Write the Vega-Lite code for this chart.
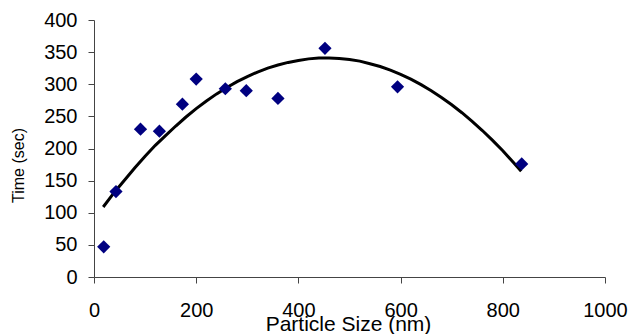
{
  "$schema": "https://vega.github.io/schema/vega-lite/v6.json",
  "autosize": "none",
  "width": 511,
  "height": 257,
  "padding": {"left": 94, "top": 20, "right": 24, "bottom": 57},
  "background": "white",
  "config": {
    "view": {"stroke": null},
    "font": "Liberation Sans",
    "axis": {
      "grid": false,
      "domainColor": "#444444",
      "tickColor": "#444444",
      "tickSize": 6,
      "labelColor": "#000000",
      "titleColor": "#000000",
      "labelFont": "Liberation Sans",
      "titleFont": "Liberation Sans",
      "labelFontSize": 20,
      "labelOverlap": false,
      "labelFlush": false,
      "titleFontWeight": "normal"
    }
  },
  "datasets": {
    "points": [
      {"size": 19, "time": 47},
      {"size": 43, "time": 133},
      {"size": 91, "time": 230},
      {"size": 128, "time": 227},
      {"size": 173, "time": 269},
      {"size": 200, "time": 308},
      {"size": 257, "time": 293},
      {"size": 298, "time": 290},
      {"size": 360, "time": 278},
      {"size": 452, "time": 356},
      {"size": 594, "time": 296},
      {"size": 837, "time": 176}
    ],
    "trend": [
      {"size": 18, "time": 109},
      {"size": 40, "time": 132},
      {"size": 60, "time": 151},
      {"size": 80, "time": 170},
      {"size": 100, "time": 188},
      {"size": 120, "time": 205},
      {"size": 140, "time": 220},
      {"size": 160, "time": 235},
      {"size": 180, "time": 249},
      {"size": 200, "time": 262},
      {"size": 220, "time": 274},
      {"size": 240, "time": 285},
      {"size": 260, "time": 295},
      {"size": 280, "time": 304},
      {"size": 300, "time": 312},
      {"size": 320, "time": 319},
      {"size": 340, "time": 325},
      {"size": 360, "time": 330},
      {"size": 380, "time": 334},
      {"size": 400, "time": 337},
      {"size": 420, "time": 339.5},
      {"size": 440, "time": 340.7},
      {"size": 460, "time": 341},
      {"size": 480, "time": 340.2},
      {"size": 500, "time": 338.5},
      {"size": 520, "time": 336},
      {"size": 540, "time": 332},
      {"size": 560, "time": 327.6},
      {"size": 580, "time": 322},
      {"size": 600, "time": 315.5},
      {"size": 620, "time": 308},
      {"size": 640, "time": 299.4},
      {"size": 660, "time": 290},
      {"size": 680, "time": 279.5},
      {"size": 700, "time": 268},
      {"size": 720, "time": 255.7},
      {"size": 740, "time": 242.3},
      {"size": 760, "time": 228},
      {"size": 780, "time": 212.7},
      {"size": 800, "time": 196.4},
      {"size": 820, "time": 179},
      {"size": 836, "time": 164.6}
    ]
  },
  "encoding": {
    "x": {
      "field": "size", "type": "quantitative",
      "scale": {"domain": [0, 1000], "nice": false},
      "axis": {
        "values": [0, 200, 400, 600, 800, 1000],
        "format": "d",
        "labelOverlap": false,
        "labelPadding": 17,
        "title": "Particle Size (nm)",
        "titleFontSize": 21,
        "titleX": 254,
        "titleY": 53,
        "titleAlign": "center",
        "titleBaseline": "alphabetic"
      }
    },
    "y": {
      "field": "time", "type": "quantitative",
      "scale": {"domain": [0, 400], "nice": false},
      "axis": {
        "values": [0, 50, 100, 150, 200, 250, 300, 350, 400],
        "format": "d",
        "labelOverlap": false,
        "labelPadding": 11,
        "title": "Time (sec)",
        "titleFontSize": 16,
        "titleX": -76,
        "titleY": 145,
        "titleAlign": "center",
        "titleBaseline": "middle"
      }
    }
  },
  "layer": [
    {
      "data": {"name": "trend"},
      "mark": {"type": "line", "color": "#000000", "strokeWidth": 3}
    },
    {
      "data": {"name": "points"},
      "mark": {"type": "point", "shape": "diamond", "filled": true, "color": "#000080", "opacity": 1, "size": 175}
    }
  ]
}
